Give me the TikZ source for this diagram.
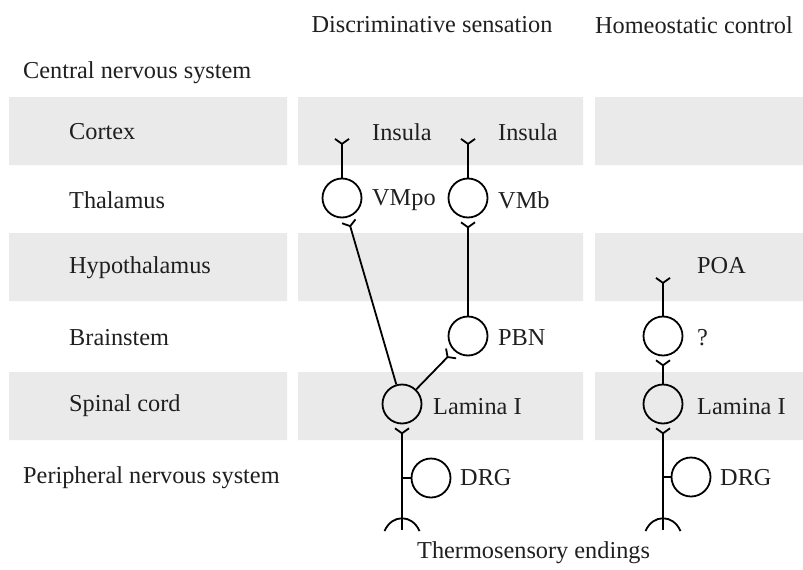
\documentclass[tikz,border=0pt]{standalone}
\usepackage{fontspec}
\setmainfont{Liberation Serif}
\usetikzlibrary{arrows.meta}
\definecolor{bandgray}{RGB}{234,234,234}
\tikzset{
  txt/.style={anchor=west,inner sep=0pt,font=\fontsize{24.3}{28}\selectfont,text=black!88},
  cell/.style={circle,draw,line width=1.8pt,minimum size=39pt,inner sep=0pt},
  axon/.style={line width=1.8pt},
  syn/.style={axon,-{Straight Barb[reversed,length=5pt,width=14pt,line width=1.8pt]},shorten >=3pt},
  ending/.pic={\draw[axon] (-17.5,1) .. controls (-10,-16) and (10,-16) .. (17.5,1);}
}
\begin{document}
\begin{tikzpicture}[x=1pt,y=-1pt]
  \useasboundingbox (0,0) rectangle (803,570);
  \foreach \y in {97,233,372}{
    \fill[bandgray] (9,\y) rectangle (287,\y+68)
      (298,\y) rectangle (583,\y+68);
  }
  \fill[bandgray] (595,97) rectangle (803,165)
    (595,233) rectangle (803,301)
    (595,372) rectangle (803,440);
  % headings and levels
  \node[txt,anchor=center] (disc) at (432,25) {Discriminative sensation};
  \node[txt,anchor=center] (homeo) at (694,25) {Homeostatic control};
  \node[txt] (cns) at (23,73) {Central nervous system};
  \node[txt] (cortex) at (69,132) {Cortex};
  \node[txt] (thal) at (69,200) {Thalamus};
  \node[txt] (hypo) at (69,268) {Hypothalamus};
  \node[txt] (brain) at (69,338) {Brainstem};
  \node[txt] (spinal) at (69,406) {Spinal cord};
  \node[txt] (pns) at (23,478) {Peripheral nervous system};
  \node[txt] (endings) at (417,553) {Thermosensory endings};
  % neurons
  \node[cell] (vmpo) at (342,198) {};
  \node[cell] (vmb) at (468,198) {};
  \node[cell] (pbn) at (468,336) {};
  \node[cell] (laml) at (402,404) {};
  \node[cell] (drgl) at (431,478) {};
  \node[cell] (qn) at (663,336) {};
  \node[cell] (lamr) at (663,404) {};
  \node[cell] (drgr) at (691,477) {};
  \coordinate (insa) at (342,135);
  \coordinate (insb) at (468,135);
  \coordinate (poat) at (663,274);
  \coordinate (endl) at (402,530);
  \coordinate (endr) at (663,530);
  % names
  \node[txt] (insla) at (372,132) {Insula};
  \node[txt] (inslb) at (498,132) {Insula};
  \node[txt] (vmpol) at (372,200) {VMpo};
  \node[txt] (vmbl) at (498,200) {VMb};
  \node[txt] (pbnl) at (498,338) {PBN};
  \node[txt] (laml-l) at (433,407) {Lamina I};
  \node[txt] (drgl-l) at (460,478) {DRG};
  \node[txt] (poal) at (697,266) {POA};
  \node[txt] (ql) at (697,338) {?};
  \node[txt] (lamr-l) at (697,407) {Lamina I};
  \node[txt] (drgr-l) at (720,478) {DRG};
  % axons
  \draw[syn] (vmpo) -- (insa);
  \draw[syn] (vmb) -- (insb);
  \draw[syn] (laml) -- (vmpo);
  \draw[syn] (pbn) -- (vmb);
  \draw[syn] (laml) -- (pbn);
  \draw[syn] (endl) -- (laml);
  \draw[syn] (qn) -- (poat);
  \draw[syn] (lamr) -- (qn);
  \draw[syn] (endr) -- (lamr);
  \draw[axon] (drgl.west) -- (drgl.west -| endl);
  \draw[axon] (drgr.west) -- (drgr.west -| endr);
  \pic at (endl) {ending};
  \pic at (endr) {ending};
\end{tikzpicture}
\end{document}
